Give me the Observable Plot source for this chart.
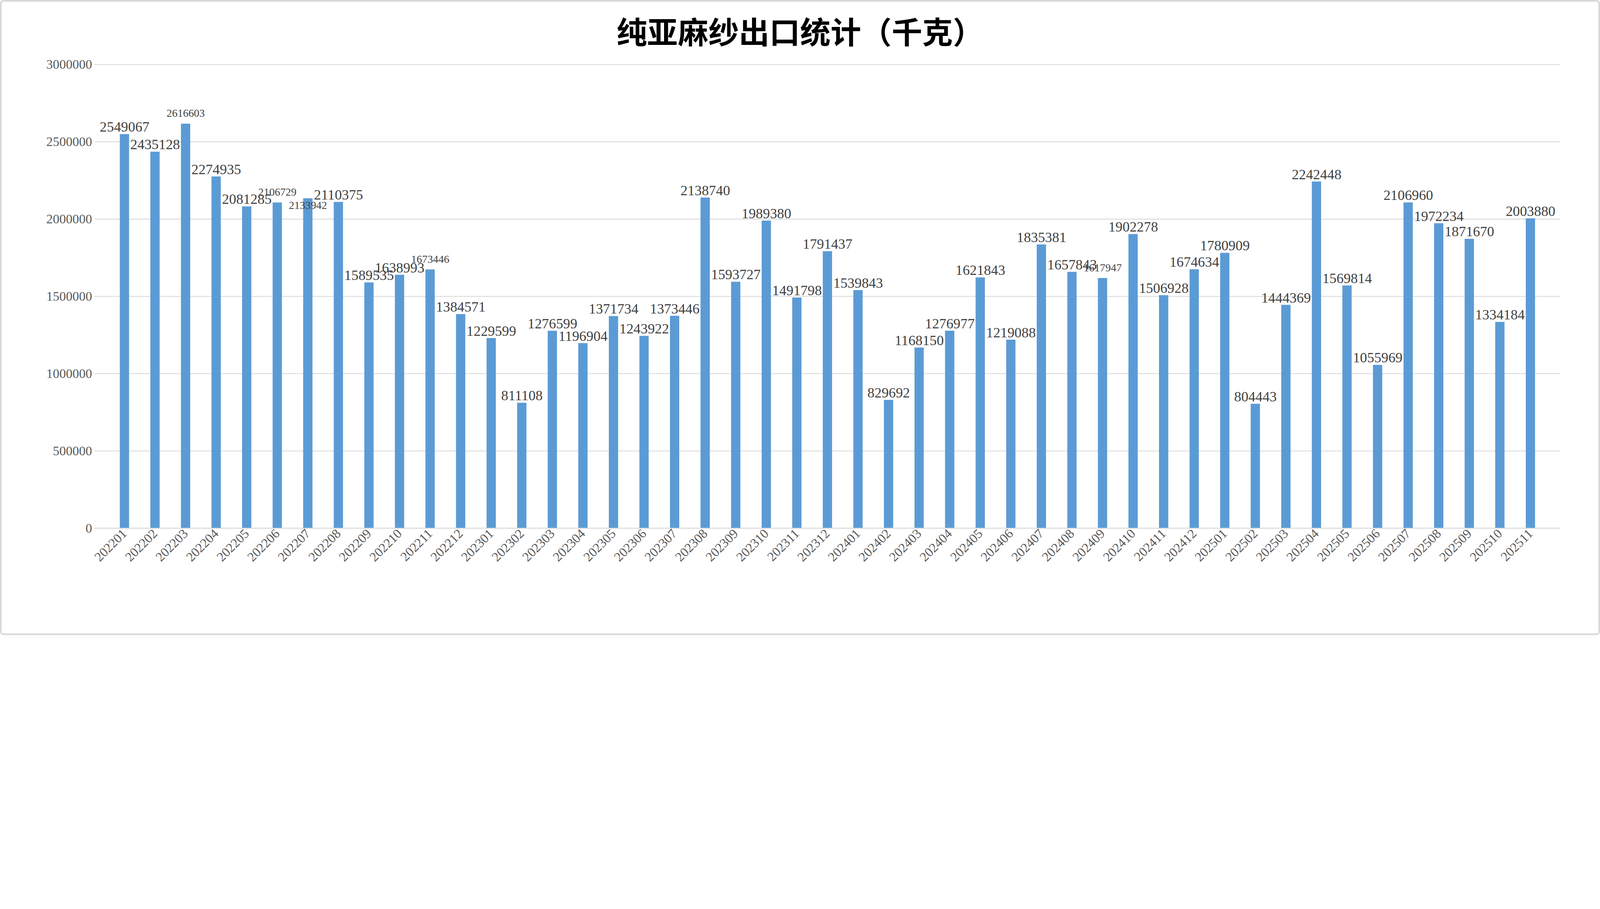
<!DOCTYPE html>
<html><head><meta charset="utf-8">
<script src="https://cdn.jsdelivr.net/npm/d3@7"></script>
<script src="https://cdn.jsdelivr.net/npm/@observablehq/plot@0.6"></script>
<style>
html,body{margin:0;background:#fff;overflow:hidden;}
#wrap{width:5851px;height:2316px;border:6px solid #d9d9d9;border-radius:12px;overflow:hidden;transform-origin:0 0;}
#title{height:200px;line-height:210px;text-align:center;font-family:"Noto Sans CJK SC";font-weight:bold;font-size:112px;color:#000;}
</style></head><body>
<div id="wrap"><div id="title">纯亚麻纱出口统计（千克）</div><div id="chart"></div></div>
<script>
const months = ["202201","202202","202203","202204","202205","202206","202207","202208","202209","202210","202211","202212","202301","202302","202303","202304","202305","202306","202307","202308","202309","202310","202311","202312","202401","202402","202403","202404","202405","202406","202407","202408","202409","202410","202411","202412","202501","202502","202503","202504","202505","202506","202507","202508","202509","202510","202511"];
const values = [2549067,2435128,2616603,2274935,2081285,2106729,2133942,2110375,1589535,1638993,1673446,1384571,1229599,811108,1276599,1196904,1371734,1243922,1373446,2138740,1593727,1989380,1491798,1791437,1539843,829692,1168150,1276977,1621843,1219088,1835381,1657843,1617947,1902278,1506928,1674634,1780909,804443,1444369,2242448,1569814,1055969,2106960,1972234,1871670,1334184,2003880];
const smallLabels = ["202203","202206","202211","202409"];
const belowLabels = ["202207"];
const yTicks = [0,500000,1000000,1500000,2000000,2500000,3000000];
const data = months.map((m,i)=>({m, v:values[i]}));
const normal = data.filter(d=>!smallLabels.includes(d.m) && !belowLabels.includes(d.m));
const small = data.filter(d=>smallLabels.includes(d.m));
const below = data.filter(d=>belowLabels.includes(d.m));
const chart = Plot.plot({
  width:5851, height:2110,
  marginLeft:340, marginRight:140, marginTop:30, marginBottom:380,
  style:{fontFamily:"Liberation Serif", fontSize:"48px", color:"#595959"},
  x:{domain:months, label:null, padding:0.7, tickSize:0, tickRotate:-45},
  y:{domain:[0,3000000], label:null, ticks:yTicks, tickFormat:d=>String(d), grid:true, tickSize:0},
  marks:[
    Plot.gridY(yTicks,{stroke:"#d9d9d9", strokeOpacity:1, strokeWidth:3}),
    Plot.barY(data,{x:"m", y:"v", fill:"#5b9bd5"}),
    Plot.ruleY([0],{stroke:"#d9d9d9", strokeWidth:3}),
    Plot.text(normal,{x:"m", y:"v", text:d=>String(d.v), dy:-26, fontSize:52, fill:"#404040", fontFamily:"Liberation Serif"}),
    Plot.text(small,{x:"m", y:"v", text:d=>String(d.v), dy:-38, fontSize:40, fill:"#404040", fontFamily:"Liberation Serif"}),
    Plot.text(below,{x:"m", y:"v", text:d=>String(d.v), dy:26, fontSize:40, fill:"#404040", fontFamily:"Liberation Serif"})
  ]
});
document.getElementById("chart").appendChild(chart);
const s = Math.min(window.innerWidth/5863, window.innerHeight/2328);
document.getElementById("wrap").style.transform = `scale(${s})`;
</script></body></html>
